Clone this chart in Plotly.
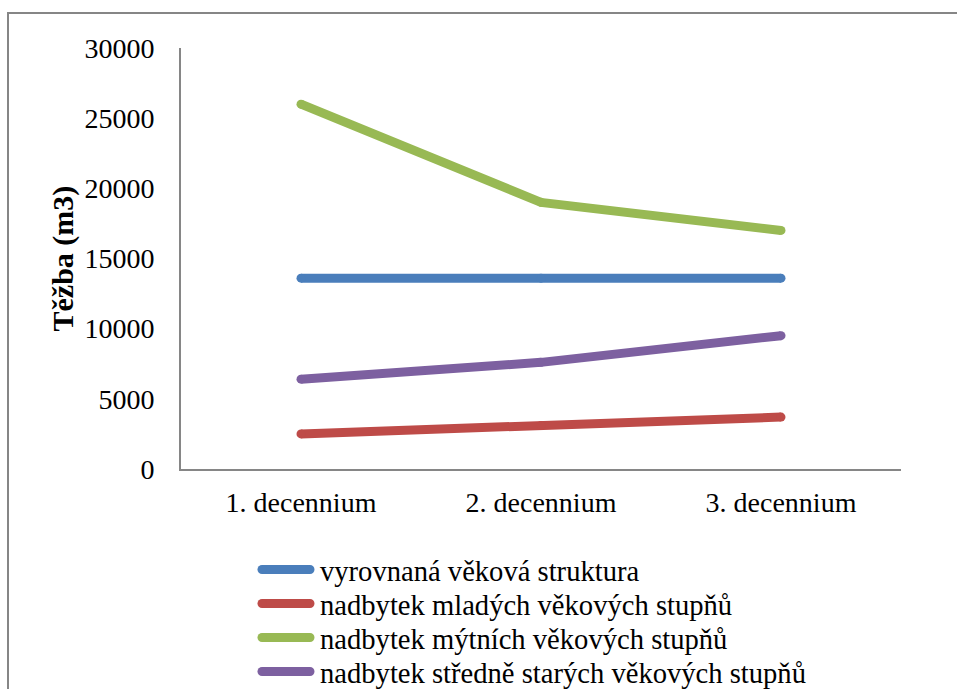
import plotly.graph_objects as go

# Harvest volume per decade for four age-structure scenarios
categories = ["1. decennium", "2. decennium", "3. decennium"]
series_names = [
    "vyrovnaná věková struktura",
    "nadbytek mladých věkových stupňů",
    "nadbytek mýtních věkových stupňů",
    "nadbytek středně starých věkových stupňů",
]
vyrovnana = [13600, 13600, 13600]
mlade = [2500, 3100, 3700]
mytni = [26000, 19000, 17000]
stredne_stare = [6400, 7600, 9500]
y_ticks = [0, 5000, 10000, 15000, 20000, 25000, 30000]

series_values = [vyrovnana, mlade, mytni, stredne_stare]
colors = ["#4A7EBB", "#BE4B48", "#98B954", "#7D60A0"]

FONT = "Liberation Serif"
W, H = 957, 689
L, R, T, B = 181, 56, 48, 220
plot_w = W - L - R
plot_h = H - T - B


def px_x(px):
    return (px - L) / plot_w


def px_y(py):
    return (H - B - py) / plot_h


fig = go.Figure()
for name, vals, col in zip(series_names, series_values, colors):
    fig.add_trace(go.Scatter(
        x=categories, y=vals, name=name, mode="lines",
        line=dict(color=col, width=9),
    ))
for vals, col in zip(series_values, colors):
    # round ends and joints of the thick lines
    fig.add_trace(go.Scatter(
        x=categories, y=vals, mode="markers", showlegend=False,
        hoverinfo="skip",
        marker=dict(color=col, size=9, line=dict(width=0)),
    ))

# legend drawn below the plot: sample line + label per series
shapes = [dict(
    type="rect", xref="paper", yref="paper",
    x0=px_x(8), x1=1.5, y0=-1.0, y1=px_y(13),
    line=dict(color="#868686", width=2),
    fillcolor="rgba(0,0,0,0)", layer="below",
)]
annotations = [dict(
    text="<b>Těžba (m3)</b>", textangle=-90,
    xref="paper", yref="paper",
    x=px_x(62), y=0.5, xanchor="center", yanchor="middle",
    showarrow=False, font=dict(family=FONT, size=30, color="black"),
)]
legend_top, legend_step = 569.5, 34
sample_x0, sample_x1 = 262, 310
for i, (name, col) in enumerate(zip(series_names, colors)):
    yc = px_y(legend_top + i * legend_step)
    shapes.append(dict(
        type="line", xref="paper", yref="paper",
        x0=px_x(sample_x0), x1=px_x(sample_x1), y0=yc, y1=yc,
        line=dict(color=col, width=9), layer="above",
    ))
    for sx in (sample_x0, sample_x1):
        shapes.append(dict(
            type="circle", xref="paper", yref="paper",
            xsizemode="pixel", ysizemode="pixel",
            xanchor=px_x(sx), yanchor=yc,
            x0=-4.5, x1=4.5, y0=-4.5, y1=4.5,
            fillcolor=col, line=dict(width=0), layer="above",
        ))
    annotations.append(dict(
        text=name, xref="paper", yref="paper",
        x=px_x(318), y=px_y(legend_top + i * legend_step + 2),
        xanchor="left", yanchor="middle", showarrow=False,
        font=dict(family=FONT, size=28.6, color="black"),
    ))

fig.update_layout(
    width=W, height=H,
    margin=dict(l=L, r=R, t=T, b=B, pad=0),
    paper_bgcolor="white", plot_bgcolor="white",
    font=dict(family=FONT, size=28, color="black"),
    showlegend=False,
    xaxis=dict(
        type="category", range=[-0.5, 2.5],
        showline=True, linecolor="#868686", linewidth=2,
        showgrid=False, ticks="", ticklabelstandoff=7,
        tickfont=dict(family=FONT, size=28),
        fixedrange=True,
    ),
    yaxis=dict(
        range=[0, 30000], tickvals=y_ticks,
        ticktext=[str(v) for v in y_ticks],
        showline=True, linecolor="#868686", linewidth=2,
        showgrid=False, ticks="", zeroline=False,
        ticklabelstandoff=19,
        tickfont=dict(family=FONT, size=28),
        fixedrange=True,
    ),
    annotations=annotations,
    shapes=shapes,
)

fig.write_html("out.html")
